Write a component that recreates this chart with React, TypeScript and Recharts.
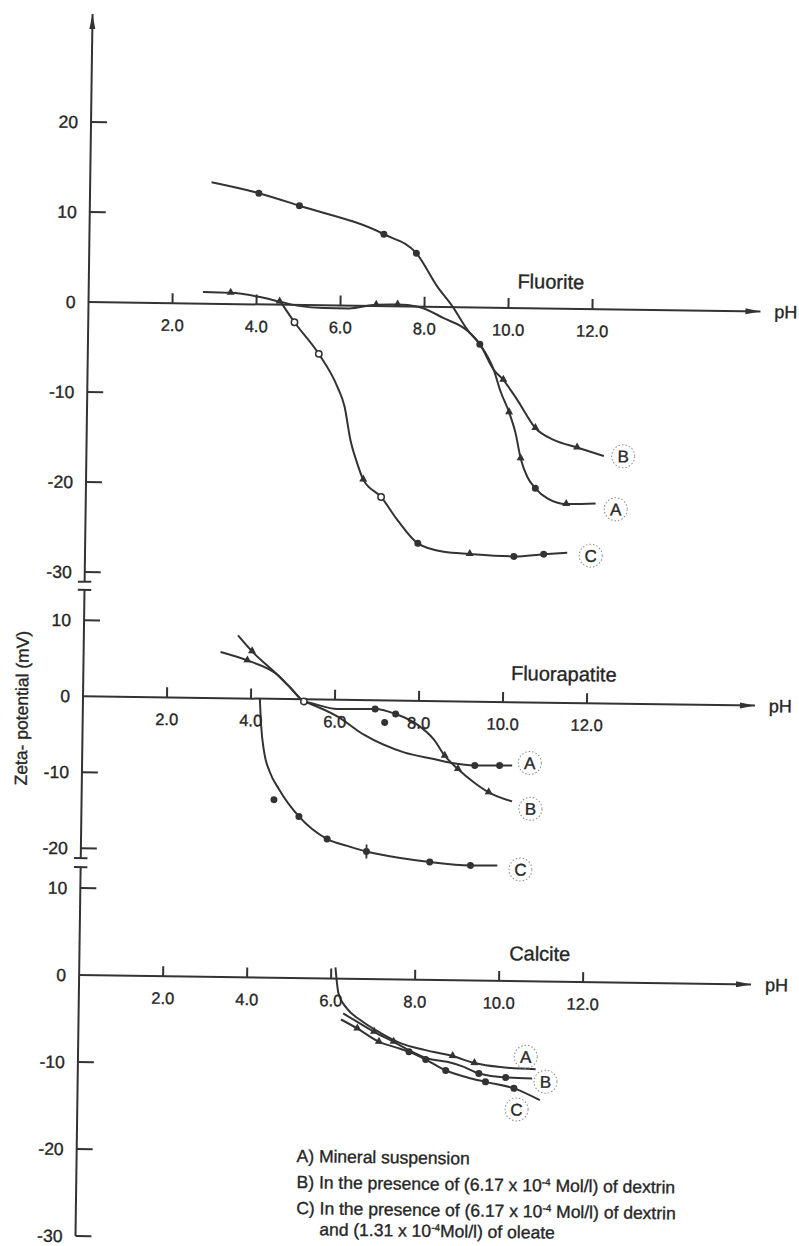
import React from "react";
import { ComposedChart, Line, XAxis, YAxis, ReferenceLine, ReferenceDot } from "recharts";

// [pH, zeta (mV), marker]  d = filled dot, t = triangle, o = open circle, x = crossed dot
type Pt = [number, number, string?];

const phTicks = [2, 4, 6, 8, 10, 12];

// Fluorite
const fluoriteTicks = [20, 10, 0, -10, -20, -30];
const fluoriteA: Pt[] = [
  [2.89, 13.5], [4.02, 12.36, "d"], [4.99, 11.03, "d"], [7.01, 7.99, "d"], [7.79, 5.93, "d"],
  [8.3, 2.26], [8.67, 0.06], [9.03, -2.5], [9.33, -4.08, "d"], [9.67, -6.9], [9.84, -9.3],
  [10.05, -11.6, "t"], [10.21, -13.9], [10.34, -16.7, "t"], [10.5, -18.7], [10.7, -20, "d"],
  [10.99, -21.1], [11.44, -21.7, "t"], [12.14, -21.6],
];
const fluoriteB: Pt[] = [
  [2.72, 1.3], [3.38, 1.25, "t"], [4.05, 0.85], [4.55, 0.35, "t"], [5.0, -0.1], [5.6, -0.3],
  [6.2, -0.3], [6.85, 0.15, "t"], [7.36, 0.2, "t"], [7.85, 0.0], [8.46, -1.24], [9.03, -2.6],
  [9.33, -4.08], [9.67, -6.9], [9.9, -8.0, "t"], [10.24, -10.2], [10.68, -13.3, "t"],
  [11.12, -14.6], [11.68, -15.4, "t"], [12.32, -16.3],
];
const fluoriteC: Pt[] = [
  [4.57, 0.35], [4.91, -1.92, "o"], [5.5, -5.4, "o"], [5.95, -9.0], [6.13, -11.2], [6.28, -14.9],
  [6.45, -17.5], [6.6, -19.3, "t"], [7.03, -21.2, "o"], [7.42, -23.7], [7.92, -26.3, "d"],
  [8.54, -27.2], [9.16, -27.4, "t"], [10.21, -27.6, "d"], [10.92, -27.3, "d"], [11.48, -27.1],
];

// Fluorapatite
const apatiteTicks = [10, 0, -10, -20];
const apatiteA: Pt[] = [
  [3.26, 6.07], [3.9, 5.01, "t"], [4.62, 3.18], [4.94, 1.46], [5.26, -0.28, "o"], [5.42, -0.6],
  [6.06, -2.18], [6.7, -4.55], [7.66, -6.8], [8.37, -7.62], [8.81, -8.1], [9.35, -8.38, "d"],
  [9.94, -8.34, "d"], [10.24, -8.32],
];
const apatiteB: Pt[] = [
  [3.67, 8.29], [4.01, 6.21, "t"], [4.62, 3.18], [4.94, 1.46], [5.26, -0.28], [5.42, -0.47],
  [6.06, -1.21], [6.96, -1.14, "d"], [7.45, -1.76, "d"], [7.97, -3.13], [8.37, -5.08],
  [8.63, -7.16, "t"], [8.95, -8.88, "t"], [9.33, -10.6], [9.69, -11.9, "t"], [10.25, -13.05],
];
const apatiteC: Pt[] = [
  [4.21, 0.1], [4.25, -3.5], [4.33, -7.0], [4.47, -9.6], [4.7, -11.9], [5.18, -15.42, "d"],
  [5.86, -18.34, "d"], [6.34, -19.2], [6.8, -19.9, "x"], [7.61, -20.7], [8.31, -21.17, "d"],
  [9.28, -21.55, "d"], [9.92, -21.5],
];
const apatiteLoose: Pt[] = [[7.19, -2.89, "d"], [4.58, -13.26, "d"]];

// Calcite
const calciteTicks = [10, 0, -10, -20, -30];
const calciteA: Pt[] = [
  [6.1, 1.3], [6.18, -1.66], [6.38, -3.37], [6.71, -4.72], [7.2, -6.18], [7.67, -7.3],
  [8.27, -8.07], [8.92, -8.71, "t"], [9.44, -9.48, "t"], [10.06, -9.9], [10.9, -10.08],
];
const calciteB: Pt[] = [
  [6.3, -3.99], [6.64, -4.93], [7.04, -6.04, "t"], [7.51, -7.16, "t"], [7.87, -8.09],
  [8.32, -9.02], [8.79, -9.38], [9.19, -9.93], [9.55, -10.67, "d"], [10.19, -11.08, "d"],
  [10.82, -11.15],
];
const calciteC: Pt[] = [
  [6.25, -4.68], [6.64, -5.69, "t"], [7.16, -7.19, "t"], [7.56, -7.8], [7.88, -8.29, "d"],
  [8.28, -9.15, "d"], [8.76, -10.38, "d"], [9.28, -11.14], [9.71, -11.62, "d"], [10.39, -12.32, "d"],
  [11.01, -13.63],
];

const INK = "#333";
const TEXT = "#262626";
const FONT = '"Liberation Sans", Arial, Helvetica, sans-serif';
const svgText = { fill: TEXT, stroke: TEXT, strokeWidth: 0.35, fontFamily: FONT };

const rows = (pts: Pt[]) => pts.map(([x, y, m]) => ({ x, y, m: m || "" }));

function Marker(props: any) {
  const { cx, cy, payload } = props;
  if (cx == null || cy == null) return <g />;
  switch (payload?.m) {
    case "d":
      return <circle cx={cx} cy={cy} r={3.5} fill={INK} />;
    case "o":
      return <circle cx={cx} cy={cy} r={3.2} fill="#fff" stroke={INK} strokeWidth={1.5} />;
    case "t":
      return <polygon points={`${cx},${cy - 5} ${cx - 4},${cy + 2} ${cx + 4},${cy + 2}`} fill={INK} />;
    case "x":
      return (
        <g>
          <circle cx={cx} cy={cy} r={3.5} fill={INK} />
          <line x1={cx} y1={cy - 7} x2={cx} y2={cy + 7} stroke={INK} strokeWidth={1.8} />
        </g>
      );
    default:
      return <g />;
  }
}

const arrowRight = (p: any) => (
  <polygon points={`${p.cx},${p.cy} ${p.cx - 15},${p.cy - 3} ${p.cx - 15},${p.cy + 3}`} fill={INK} />
);
const arrowUp = (p: any) => (
  <polygon points={`${p.cx},${p.cy} ${p.cx - 3},${p.cy + 15} ${p.cx + 3},${p.cy + 15}`} fill={INK} />
);

interface PanelProps {
  zeroV: number;
  k: number;
  domain: [number, number];
  mb: number;
  ticks: number[];
  series: Pt[][];
  loose?: Pt[];
  axisFrom: number;
  axisTo: number;
  arrow?: boolean;
  caps: number[];
  tickH: number;
  letters: [string, number, number][];
  name: string;
  nameAt: [number, number];
}

function Panel(p: PanelProps) {
  const mt = 10;
  const height = mt + (p.domain[1] - p.domain[0]) * p.k + p.mb;
  const top = p.zeroV - p.domain[1] * p.k - mt;
  const inward = p.ticks.filter((t) => t !== 0);
  return (
    <div style={{ position: "absolute", left: 42.5, top }}>
      <ComposedChart width={757} height={height} margin={{ top: mt, right: 45, bottom: p.mb, left: 0 }}>
        <XAxis type="number" dataKey="x" domain={[0, 16]} hide allowDataOverflow />
        <YAxis
          type="number"
          dataKey="y"
          domain={p.domain}
          ticks={p.ticks}
          interval={0}
          allowDataOverflow
          axisLine={false}
          tickLine={false}
          tickMargin={7}
          width={40}
          tick={{ ...svgText, fontSize: 17.5 }}
        />
        <ReferenceLine
          segment={[{ x: 0, y: p.axisFrom }, { x: 0, y: p.axisTo }]}
          ifOverflow="visible"
          stroke={INK}
          strokeWidth={2}
        />
        {p.caps.map((c) => (
          <ReferenceLine
            key={"cap" + c}
            segment={[{ x: -0.16, y: c }, { x: 0.16, y: c }]}
            ifOverflow="visible"
            stroke={INK}
            strokeWidth={2}
          />
        ))}
        {inward.map((t) => (
          <ReferenceLine key={"yt" + t} segment={[{ x: 0, y: t }, { x: 0.38, y: t }]} stroke={INK} strokeWidth={2} />
        ))}
        <ReferenceLine
          y={0}
          stroke={INK}
          strokeWidth={2}
          label={{ value: "pH", position: "right", offset: 14, fontSize: 18, ...svgText }}
        />
        <ReferenceDot x={16} y={0} r={1} shape={arrowRight} />
        {p.arrow && <ReferenceDot x={0} y={p.domain[1]} r={1} shape={arrowUp} />}
        {phTicks.map((t) => (
          <ReferenceLine
            key={"xt" + t}
            segment={[{ x: t, y: 0 }, { x: t, y: p.tickH }]}
            stroke={INK}
            strokeWidth={2}
            label={{ value: t.toFixed(1), position: "bottom", offset: 16, fontSize: 16.5, ...svgText }}
          />
        ))}
        {p.series.map((s, i) => (
          <Line
            key={"s" + i}
            data={rows(s)}
            dataKey="y"
            type="monotone"
            stroke={INK}
            strokeWidth={2}
            dot={Marker}
            activeDot={false}
            isAnimationActive={false}
          />
        ))}
        {p.loose && (
          <Line
            data={rows(p.loose)}
            dataKey="y"
            stroke="none"
            strokeWidth={0}
            dot={Marker}
            activeDot={false}
            isAnimationActive={false}
          />
        )}
        {p.letters.map(([id, x, y]) => (
          <ReferenceDot
            key={"l" + id}
            x={x}
            y={y}
            r={11.5}
            fill="none"
            stroke="#8a8a8a"
            strokeWidth={1}
            strokeDasharray="1.5 2"
            label={{ value: id, position: "center", fontSize: 17, ...svgText }}
          />
        ))}
        <ReferenceDot
          x={p.nameAt[0]}
          y={p.nameAt[1]}
          r={1}
          fill="none"
          stroke="none"
          label={{ value: p.name, position: "center", fontSize: 20, ...svgText }}
        />
      </ComposedChart>
    </div>
  );
}

const htmlText: React.CSSProperties = {
  position: "absolute",
  fontFamily: FONT,
  fontSize: 17.5,
  lineHeight: "20px",
  color: TEXT,
  whiteSpace: "nowrap",
  WebkitTextStroke: "0.35px " + TEXT,
};
const supStyle: React.CSSProperties = { fontSize: 10, verticalAlign: "6px", lineHeight: 0 };

export default function App() {
  return (
    <div style={{ position: "absolute", left: 0, top: 0, width: 799, height: 1246, overflow: "hidden", background: "#fff" }}>
      <div
        style={{
          position: "absolute",
          left: 0,
          top: 0,
          width: 799,
          height: 1246,
          transform: "rotate(0.8deg)",
          transformOrigin: "82px 697px",
        }}
      >
        <Panel
          zeroV={302}
          k={9}
          domain={[-31.5, 32]}
          mb={10}
          ticks={fluoriteTicks}
          series={[fluoriteA, fluoriteB, fluoriteC]}
          axisFrom={-31.08}
          axisTo={32}
          arrow
          caps={[-31.08]}
          tickH={1.11}
          letters={[["B", 12.78, -16.3], ["A", 12.62, -22.2], ["C", 12.04, -27.4]]}
          name="Fluorite"
          nameAt={[11.0, 3.0]}
        />
        <Panel
          zeroV={696.5}
          k={7.6}
          domain={[-23, 14.5]}
          mb={10}
          ticks={apatiteTicks}
          series={[apatiteA, apatiteB, apatiteC]}
          loose={apatiteLoose}
          axisFrom={-21.3}
          axisTo={14.0}
          caps={[14.0, -21.3]}
          tickH={1.32}
          letters={[["A", 10.66, -7.96], ["B", 10.69, -14.0], ["C", 10.47, -22.0]]}
          name="Fluorapatite"
          nameAt={[11.44, 3.84]}
        />
        <Panel
          zeroV={975}
          k={8.7}
          domain={[-30.8, 13]}
          mb={0}
          ticks={calciteTicks}
          series={[calciteA, calciteB, calciteC]}
          axisFrom={-30}
          axisTo={12.4}
          caps={[12.4]}
          tickH={1.15}
          letters={[["A", 10.66, -8.68], ["B", 11.14, -11.51], ["C", 10.46, -14.74]]}
          name="Calcite"
          nameAt={[10.96, 3.22]}
        />
        <div
          style={{
            ...htmlText,
            left: 22.2,
            top: 708.8,
            transform: "translate(-50%, -50%) rotate(-90deg)",
          }}
        >
          Zeta- potential (mV)
        </div>
        <div style={{ ...htmlText, left: 303, top: 1143 }}>A) Mineral suspension</div>
        <div style={{ ...htmlText, left: 303.4, top: 1168.7 }}>
          B) In the presence of (6.17 x 10<span style={supStyle}>-4</span> Mol/l) of dextrin
        </div>
        <div style={{ ...htmlText, left: 303.4, top: 1194.5 }}>
          C) In the presence of (6.17 x 10<span style={supStyle}>-4</span> Mol/l) of dextrin
        </div>
        <div style={{ ...htmlText, left: 326.7, top: 1216 }}>
          and (1.31 x 10<span style={supStyle}>-4</span>Mol/l) of oleate
        </div>
      </div>
    </div>
  );
}
